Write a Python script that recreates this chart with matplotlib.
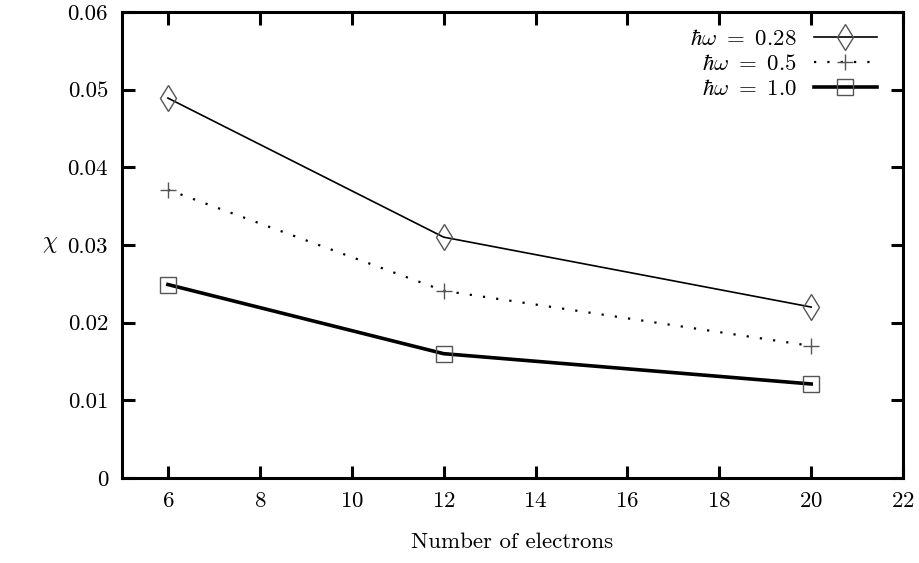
import numpy as np
import matplotlib
matplotlib.use("Agg")
import matplotlib.pyplot as plt

plt.rcParams['font.family'] = 'serif'
plt.rcParams['font.serif'] = ['cmr10', 'DejaVu Serif']
plt.rcParams['mathtext.fontset'] = 'cm'
plt.rcParams['axes.formatter.use_mathtext'] = True

# data
electrons = [6, 12, 20]
chi_028 = [0.0489, 0.0310, 0.0220]
chi_05 = [0.0371, 0.0241, 0.0170]
chi_10 = [0.0249, 0.0160, 0.0121]
labels = [r'$\hbar\omega\ =\ 0.28$', r'$\hbar\omega\ =\ 0.5$', r'$\hbar\omega\ =\ 1.0$']

fig = plt.figure(figsize=(9.2, 5.63), dpi=100)
ax = fig.add_axes([0.1326, 0.151, 0.849, 0.828])

mk = dict(markerfacecolor='none', markeredgecolor='#555555', markeredgewidth=1.0)
ax.plot(electrons, chi_028, color='black', lw=1.2, marker='d', markersize=13.5, label=labels[0], **mk)
ax.plot(electrons, chi_05, color='black', lw=1.6, linestyle=(0, (1, 5)), marker='+', markersize=12,
        label=labels[1], **mk)
ax.plot(electrons, chi_10, color='black', lw=2.6, marker='s', markersize=11.5, label=labels[2], **mk)

ax.set_xlim(5, 22)
ax.set_ylim(0, 0.06)
ax.set_xticks(np.arange(6, 23, 2))
ax.set_yticks(np.arange(0, 0.061, 0.01))
ax.set_yticklabels(['0', '0.01', '0.02', '0.03', '0.04', '0.05', '0.06'])

for s in ax.spines.values():
    s.set_linewidth(2.2)
ax.tick_params(direction='in', length=9, width=2.2, top=True, right=True, labelsize=16.5, pad=10)

ax.set_xlabel('Number of electrons', fontsize=16.5, labelpad=15)
ax.set_ylabel(r'$\chi$', fontsize=17, rotation=0, va='center', ha='center')
ax.yaxis.set_label_coords(-0.092, 0.502)

leg = ax.legend(loc='upper right', bbox_to_anchor=(877 / 920, 1 - 29 / 563), bbox_transform=fig.transFigure,
                frameon=False, markerfirst=False, fontsize=16.5, handlelength=2.75, borderpad=0,
                borderaxespad=0, labelspacing=0.22, handletextpad=0.75)

fig.savefig('out.png', dpi=100)
